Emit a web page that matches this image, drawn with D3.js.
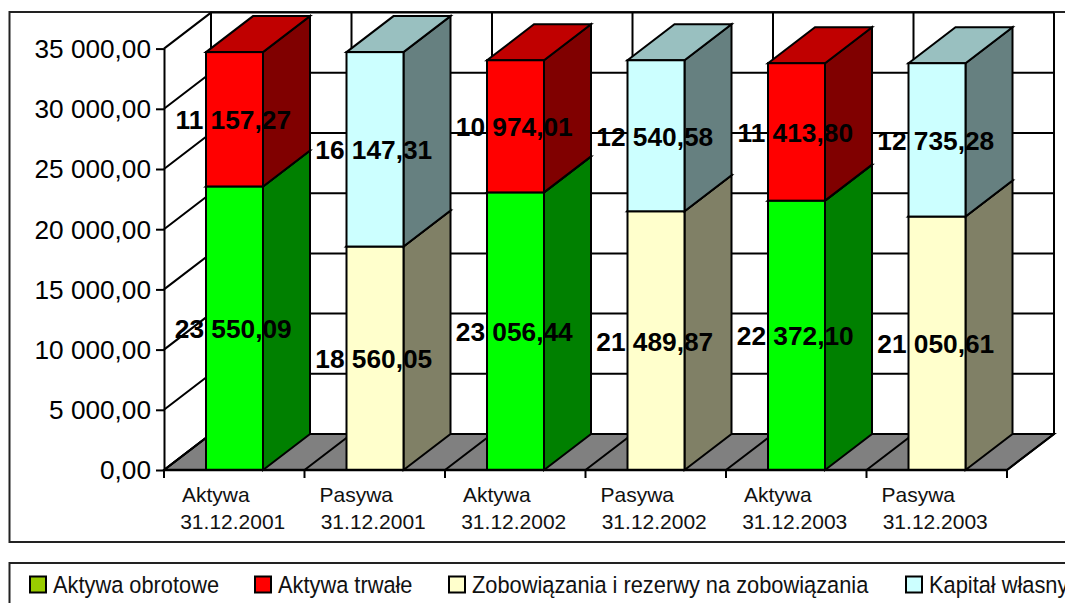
<!DOCTYPE html>
<html>
<head>
<meta charset="utf-8">
<script src="https://cdn.jsdelivr.net/npm/d3@7"></script>
<style>
  html, body { margin: 0; padding: 0; background: #fff; overflow: hidden; }
  svg { display: block; font-family: "Liberation Sans", Arial, sans-serif; }
</style>
</head>
<body>
<div id="chart"></div>
<script>
const categories = ["Aktywa", "Pasywa", "Aktywa", "Pasywa", "Aktywa", "Pasywa"];
const dates = ["31.12.2001", "31.12.2001", "31.12.2002", "31.12.2002", "31.12.2003", "31.12.2003"];
const aktywaObrotowe = [23550.09, 0, 23056.44, 0, 22372.10, 0];
const aktywaTrwale = [11157.27, 0, 10974.01, 0, 11413.80, 0];
const zobowiazania = [0, 18560.05, 0, 21489.87, 0, 21050.61];
const kapital = [0, 16147.31, 0, 12540.58, 0, 12735.28];
const yTicks = [0, 5000, 10000, 15000, 20000, 25000, 30000, 35000];
const legendNames = ["Aktywa obrotowe", "Aktywa trwałe", "Zobowiązania i rezerwy na zobowiązania", "Kapitał własny"];

const width = 1065, height = 603;
const dx = 47, dy = -36; // 3d depth offset
const barOffset = 42, barWidth = 57;

const svg = d3.select("#chart").append("svg")
    .attr("width", width)
    .attr("height", height)
    .attr("viewBox", [0, 0, width, height]);

const x = d3.scaleBand().domain(d3.range(categories.length)).range([164, 1007]);
const y = d3.scaleLinear().domain([0, 35000]).range([470, 48.6]);
const x0 = x.range()[0], x1 = x.range()[1];
const edges = x.domain().map(i => x(i)).concat(x1);

// outer frames
svg.append("rect").attr("x", 9.5).attr("y", 12).attr("width", 1100).attr("height", 530)
    .attr("fill", "#fff").attr("stroke", "#222").attr("stroke-width", 2);
svg.append("rect").attr("x", 9.5).attr("y", 563).attr("width", 1100).attr("height", 100)
    .attr("fill", "#fff").attr("stroke", "#222").attr("stroke-width", 2);

// walls and floor
const grid = svg.append("g").attr("stroke", "#000").attr("stroke-width", 2).attr("fill", "none");
grid.append("path")
    .attr("fill", "#808080")
    .attr("d", `M${x0},${y(0)}L${x1},${y(0)}L${x1 + dx},${y(0) + dy}L${x0 + dx},${y(0) + dy}Z`);
grid.selectAll(".h").data(yTicks).join("path")
    .attr("d", d => `M${x0},${y(d)}L${x0 + dx},${y(d) + dy}L${x1 + dx},${y(d) + dy}`);
grid.selectAll(".v").data(edges).join("path")
    .attr("d", d => `M${d},${y(0)}L${d + dx},${y(0) + dy}L${d + dx},${y(35000) + dy}`);

// stacked bars
const keys = ["obrotowe", "trwale", "zobow", "kapital"];
const rows = categories.map((c, i) => ({
  i,
  obrotowe: aktywaObrotowe[i],
  trwale: aktywaTrwale[i],
  zobow: zobowiazania[i],
  kapital: kapital[i]
}));
const front = { obrotowe: "#00ff00", trwale: "#ff0000", zobow: "#ffffcc", kapital: "#ccffff" };
const side = { obrotowe: "#008000", trwale: "#800000", zobow: "#808066", kapital: "#668080" };
const top3d = { obrotowe: "#00c000", trwale: "#c00000", zobow: "#c0c099", kapital: "#99c0c0" };
const stacked = d3.stack().keys(keys)(rows);

const segments = [];
stacked.forEach(s => s.forEach(d => {
  if (d[1] > d[0]) segments.push({ key: s.key, i: d.data.i, v0: d[0], v1: d[1], value: d.data[s.key] });
}));

const bars = svg.append("g").attr("stroke", "#000").attr("stroke-width", 2).attr("stroke-linejoin", "miter");
segments.forEach(d => {
  const l = x(d.i) + barOffset, r = l + barWidth;
  const yb = y(d.v0), yt = y(d.v1);
  const g = bars.append("g");
  g.append("path").attr("fill", side[d.key])
    .attr("d", `M${r},${yb}L${r + dx},${yb + dy}L${r + dx},${yt + dy}L${r},${yt}Z`);
  g.append("path").attr("fill", top3d[d.key])
    .attr("d", `M${l},${yt}L${l + dx},${yt + dy}L${r + dx},${yt + dy}L${r},${yt}Z`);
  g.append("rect").attr("fill", front[d.key])
    .attr("x", l).attr("y", yt).attr("width", barWidth).attr("height", yb - yt);
});

// axes
const plFormat = d3.formatLocale({ decimal: ",", thousands: " ", grouping: [3], currency: ["", ""] }).format(",.2f");
const yAxis = svg.append("g")
    .attr("transform", `translate(${x0},0)`)
    .call(d3.axisLeft(y).tickValues(yTicks).tickFormat(plFormat).tickSize(8).tickPadding(5).tickSizeOuter(0));
yAxis.selectAll("path,line").attr("stroke", "#000").attr("stroke-width", 2);
yAxis.selectAll("text").attr("font-size", 26.2).attr("font-family", "Liberation Sans").attr("fill", "#000").attr("dy", "0.34em");

svg.append("g").attr("stroke", "#000").attr("stroke-width", 2)
  .selectAll("line").data(edges).join("line")
    .attr("x1", d => d).attr("x2", d => d)
    .attr("y1", y(0)).attr("y2", y(0) + 8);
svg.append("line").attr("x1", x0).attr("x2", x1).attr("y1", y(0)).attr("y2", y(0))
    .attr("stroke", "#000").attr("stroke-width", 2.5);

// category labels
const cx = i => x(i) + x.bandwidth() / 2;
svg.append("g").selectAll("text").data(categories).join("text")
    .attr("x", (d, i) => cx(i) - 18.5).attr("y", 502)
    .attr("text-anchor", "middle").attr("font-size", 21).attr("fill", "#111")
    .text(d => d);
svg.append("g").selectAll("text").data(dates).join("text")
    .attr("x", (d, i) => cx(i) - 1.5).attr("y", 529)
    .attr("text-anchor", "middle").attr("font-size", 21).attr("fill", "#111")
    .text(d => d);

// data labels
svg.append("g").selectAll("text").data(segments).join("text")
    .attr("x", d => cx(d.i) - 1)
    .attr("y", d => y((d.v0 + d.v1) / 2) + 10)
    .attr("text-anchor", "middle").attr("font-size", 26.3).attr("font-weight", "bold").attr("fill", "#000")
    .text(d => plFormat(d.value));

// legend, text is tall and narrow in the original
const legendColors = ["#99cc00", "#ff0000", "#ffffcc", "#ccffff"];
const legendPos = [30, 255, 449, 906];
const lg = svg.append("g").selectAll("g").data(legendNames).join("g")
    .attr("transform", (d, i) => `translate(${legendPos[i]},0)`);
lg.append("rect").attr("x", 0).attr("y", 576.5).attr("width", 16).attr("height", 16)
    .attr("fill", (d, i) => legendColors[i]).attr("stroke", "#000").attr("stroke-width", 2);
lg.append("text").attr("transform", "translate(23,593) scale(0.89,1)")
    .attr("font-size", 24.5).attr("fill", "#111").text(d => d);
</script>
</body>
</html>
